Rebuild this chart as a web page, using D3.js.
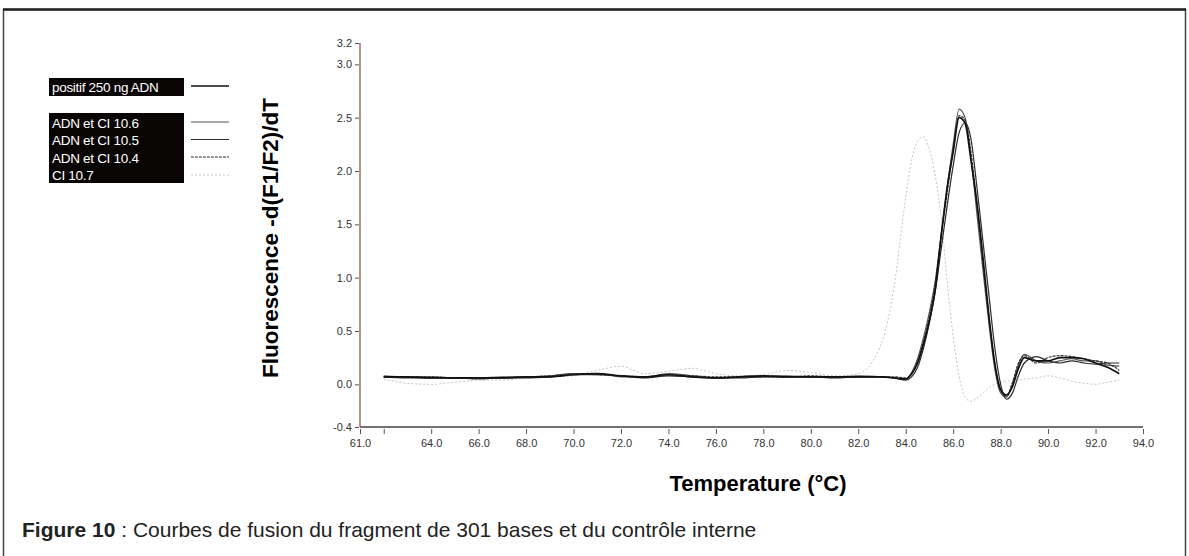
<!DOCTYPE html>
<html><head><meta charset="utf-8">
<script src="https://cdn.jsdelivr.net/npm/d3@7"></script>
<style>html,body{margin:0;padding:0;background:#fff;}svg{display:block;}</style>
</head><body>
<svg id="chart" width="1189" height="556"></svg>
<script>
// ---- data ----
const temps = [62,63,64,65,66,67,68,69,70,71,72,73,74,75,76,77,78,79,80,81,82,83,
  83.5,84,84.25,84.5,84.75,85,85.25,85.5,85.75,86,86.25,86.5,86.75,87,87.25,87.5,87.75,88,88.25,88.5,88.75,89,89.5,90,90.5,91,91.5,92,92.5,93];
const positif = [0.07,0.07,0.06,0.06,0.06,0.06,0.07,0.07,0.09,0.10,0.08,0.07,0.09,0.07,0.06,0.07,0.08,0.07,0.07,0.07,0.07,0.07,
  0.06,0.05,0.10,0.20,0.38,0.60,0.90,1.40,1.85,2.18,2.50,2.45,2.10,1.70,1.20,0.65,0.20,-0.05,-0.10,-0.02,0.15,0.25,0.22,0.22,0.25,0.25,0.24,0.20,0.16,0.10];
const adnCi106 = [0.08,0.07,0.07,0.06,0.06,0.07,0.07,0.08,0.10,0.10,0.07,0.07,0.10,0.08,0.06,0.07,0.08,0.08,0.07,0.07,0.08,0.07,
  0.06,0.05,0.11,0.24,0.44,0.68,0.98,1.42,1.85,2.25,2.58,2.50,2.12,1.60,1.08,0.58,0.15,-0.08,-0.12,0.00,0.18,0.28,0.22,0.20,0.22,0.24,0.22,0.22,0.18,0.17];
const adnCi105 = [0.07,0.06,0.06,0.06,0.05,0.06,0.06,0.07,0.09,0.09,0.08,0.06,0.08,0.07,0.06,0.06,0.07,0.07,0.07,0.06,0.07,0.07,
  0.06,0.04,0.07,0.16,0.34,0.58,0.88,1.28,1.68,2.05,2.36,2.45,2.30,1.85,1.35,0.85,0.35,0.00,-0.14,-0.08,0.08,0.20,0.26,0.22,0.20,0.22,0.20,0.19,0.20,0.20];
const adnCi104 = [0.07,0.07,0.07,0.06,0.06,0.06,0.07,0.08,0.10,0.09,0.08,0.07,0.09,0.08,0.07,0.07,0.07,0.07,0.08,0.07,0.07,0.07,
  0.07,0.06,0.10,0.22,0.40,0.64,0.95,1.40,1.80,2.20,2.52,2.48,2.18,1.68,1.15,0.65,0.20,-0.06,-0.11,0.02,0.20,0.27,0.20,0.25,0.27,0.26,0.24,0.22,0.20,0.13];
const ci107 = [0.05,0.01,0.00,0.02,0.04,0.04,0.06,0.07,0.08,0.13,0.17,0.10,0.12,0.15,0.10,0.08,0.09,0.13,0.11,0.08,0.10,0.40,
  0.90,1.75,2.10,2.28,2.32,2.20,1.95,1.55,0.95,0.45,0.08,-0.12,-0.16,-0.13,-0.08,-0.03,0.00,0.02,0.03,0.03,0.04,0.05,0.06,0.08,0.06,0.03,0.01,0.00,0.02,0.04];
const seriesNames = ["positif 250 ng ADN","ADN et CI 10.6","ADN et CI 10.5","ADN et CI 10.4","CI 10.7"];
const xTicks = [61,62,64,66,68,70,72,74,76,78,80,82,84,86,88,90,92,94];
const yTicks = [-0.4,0.0,0.5,1.0,1.5,2.0,2.5,3.0,3.2];

// ---- styles ----
const styles = [
  {color:"#111", width:1.7, dash:null},
  {color:"#555", width:1.2, dash:null},
  {color:"#2a2a2a", width:1.2, dash:null},
  {color:"#333", width:1.2, dash:"3,1"},
  {color:"#c4c4c4", width:1.0, dash:"2,2"}
];
const seriesData = [positif, adnCi106, adnCi105, adnCi104, ci107];
const font = "Liberation Sans, Arial, sans-serif";

const svg = d3.select("#chart");
// frame
svg.append("rect").attr("x",3.5).attr("y",9.5).attr("width",1182).attr("height",560)
  .attr("fill","none").attr("stroke","#444").attr("stroke-width",1.5);
svg.append("line").attr("x1",3).attr("x2",1186).attr("y1",9.5).attr("y2",9.5)
  .attr("stroke","#222").attr("stroke-width",2.5);

const x = d3.scaleLinear().domain([61,94]).range([360,1143]);
const y = d3.scaleLinear().domain([-0.4,3.2]).range([427,43]);

// axes
const xAxis = d3.axisBottom(x).tickValues(xTicks)
  .tickFormat(d => d === 62 ? "" : d.toFixed(1)).tickSize(5).tickPadding(5);
const gx = svg.append("g").attr("transform",`translate(0,${y(-0.4)+2})`).call(xAxis);
gx.select(".domain").remove();
gx.selectAll(".tick line").attr("stroke","#555");
gx.selectAll("text").attr("font-family",font).attr("font-size",11).attr("fill","#333");
svg.append("line").attr("x1",x(61)).attr("x2",x(94)).attr("y1",y(-0.4)).attr("y2",y(-0.4))
  .attr("stroke","#444").attr("stroke-width",1.3);

const yAxis = d3.axisLeft(y).tickValues(yTicks).tickFormat(d => d.toFixed(1)).tickSize(4).tickPadding(3);
const gy = svg.append("g").attr("transform",`translate(${x(61)-1},0)`).call(yAxis);
gy.select(".domain").remove();
gy.selectAll(".tick line").attr("stroke","#555");
gy.selectAll("text").attr("font-family",font).attr("font-size",11).attr("fill","#333");
svg.append("line").attr("x1",x(61)).attr("x2",x(61)).attr("y1",y(3.2)).attr("y2",y(-0.4))
  .attr("stroke","#8a4848").attr("stroke-width",1.2);

// curves
const line = d3.line().x((d,i)=>x(temps[i])).y(d=>y(d)).curve(d3.curveMonotoneX);
[4,1,2,3,0].forEach(k => {
  svg.append("path").datum(seriesData[k]).attr("d",line)
    .attr("fill","none").attr("stroke",styles[k].color).attr("stroke-width",styles[k].width)
    .attr("stroke-dasharray",styles[k].dash);
});

// axis titles
svg.append("text").attr("x",758).attr("y",491).attr("text-anchor","middle")
  .attr("font-family",font).attr("font-weight","bold").attr("font-size",22)
  .text("Temperature (°C)");
svg.append("text").attr("transform","translate(278,238) rotate(-90)").attr("text-anchor","middle")
  .attr("font-family",font).attr("font-weight","bold").attr("font-size",22.5)
  .text("Fluorescence -d(F1/F2)/dT");

// legend
svg.append("rect").attr("x",49).attr("y",78).attr("width",135).attr("height",18).attr("fill","#0a0505");
svg.append("rect").attr("x",49).attr("y",113).attr("width",135).attr("height",70).attr("fill","#0a0505");
const legRows = [{ty:92, ly:86},{ty:127.5, ly:122},{ty:145, ly:139.5},{ty:162.5, ly:157},{ty:180, ly:175}];
legRows.forEach((r,k) => {
  svg.append("text").attr("x",52).attr("y",r.ty).attr("fill","#fff").attr("font-family",font)
    .attr("font-size",13.5).attr("letter-spacing",-0.3).text(seriesNames[k]);
  svg.append("line").attr("x1",191).attr("x2",229).attr("y1",r.ly).attr("y2",r.ly)
    .attr("stroke",styles[k].color).attr("stroke-width",k===0?1.4:1)
    .attr("stroke-dasharray",styles[k].dash);
});

// caption
const cap = svg.append("text").attr("x",22).attr("y",537)
  .attr("font-family",font).attr("font-size",21).attr("fill","#222");
cap.append("tspan").attr("font-weight","bold").text("Figure 10");
cap.append("tspan").text(" : Courbes de fusion du fragment de 301 bases et du contrôle interne");
</script>
</body></html>
